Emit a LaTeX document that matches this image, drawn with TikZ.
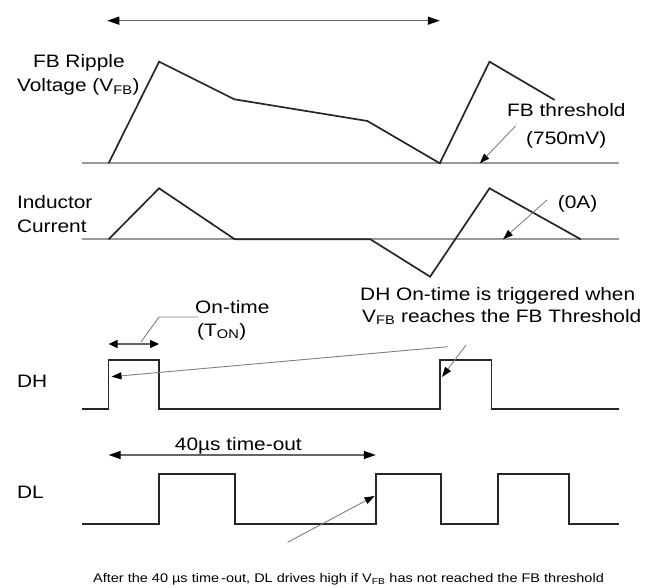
\documentclass[tikz,border=0pt]{standalone}
\usepackage{fontspec}
\setmainfont{Liberation Sans}[FakeStretch=1.16]
\usetikzlibrary{arrows.meta}
\begin{document}
\begin{tikzpicture}[x=1pt,y=-1pt,
  wave/.style={line width=1.7pt, line join=miter, draw=black!85},
  axis/.style={line width=1.6pt, draw=black!40},
  lead/.style={line width=0.9pt, draw=black!50, -{Triangle[length=10pt,width=7pt,color=black]}},
  plain/.style={line width=0.9pt, draw=black!50},
  span/.style={line width=1.2pt, draw=black!60, {Triangle[length=12pt,width=8pt,color=black]}-{Triangle[length=12pt,width=8pt,color=black]}},
  smallspan/.style={line width=1.2pt, draw=black!60, {Triangle[length=9pt,width=8pt,color=black]}-{Triangle[length=9pt,width=8pt,color=black]}},
  lbl/.style={font=\fontsize{18}{20}\selectfont, inner sep=0pt, anchor=base west},
  capt/.style={font=\fontsize{12.5}{14}\selectfont, inner sep=0pt, anchor=base}]
\useasboundingbox (0,0) rectangle (659,588);

% labels
\node[lbl] (fbr) at (32.8,67.7) {FB Ripple};
\node[lbl] (volt) at (16.8,92) {Voltage (V\textsubscript{FB})};
\node[lbl] (fbth) at (507,116.7) {FB threshold};
\node[lbl] (mv) at (526,145) {(750mV)};
\node[lbl] (ind) at (16.8,208.3) {Inductor};
\node[lbl] (cur) at (16.8,233) {Current};
\node[lbl] (za) at (557.7,209) {(0A)};
\node[lbl] (trig1) at (360,301) {DH On-time is triggered when};
\node[lbl] (trig2) at (362,322) {V\textsubscript{FB} reaches the FB Threshold};
\node[lbl] (ont) at (195,313) {On-time};
\node[lbl] (ton) at (197,336) {(T\textsubscript{ON})};
\node[lbl] (dh) at (16.8,387) {DH};
\node[lbl] (to) at (174.7,450.7) {40µs time-out};
\node[lbl] (dl) at (16.8,498) {DL};
\node[capt] (cap) at (348.5,582.5) {After the 40 µs time\,-out, DL drives high if V\textsubscript{FB} has not reached the FB threshold};

% FB ripple
\draw[axis] (82,163.3) -- (618.7,163.3);
\draw[wave] (108.6,163.3) -- (159.1,61.7) -- (234.4,99.3) -- (367.4,121) -- (439.8,163.3) -- (489.5,61.7) -- (554.7,100);

% inductor current
\draw[axis] (82,239.3) -- (618.7,239.3);
\draw[wave] (108.6,239.3) -- (159.1,188.3) -- (234.8,239.3) -- (370.4,239.3) -- (430.1,276.7) -- (489.5,188.3) -- (580.8,239.3);

% DH
\draw[wave] (82,409.3) -| (108.6,360) -| (159.1,409.3) -| (439.8,360) -| (491.6,409.3) -- (618.7,409.3);

% DL
\draw[wave] (82,524.3) -| (159.1,474.3) -| (234.8,524.3) -| (375.8,474.3) -| (440.7,524.3) -| (497.9,474.3) -| (569,524.3) -- (618.7,524.3);

% coordinates for connectors
\coordinate (topL) at (107.3,20.7);
\coordinate (topR) at (439.8,20.7);
\coordinate (thS) at (515.6,126);
\coordinate (thE) at (479.8,163.3);
\coordinate (zaS) at (547,200);
\coordinate (zaE) at (503,239.3);
\coordinate (tonL) at (108.6,344);
\coordinate (tonR) at (159.1,344);
\coordinate (ldA) at (198,317);
\coordinate (ldB) at (159,317);
\coordinate (ldC) at (141,342);
\coordinate (lgS) at (448,346.7);
\coordinate (lgE) at (111.5,376.7);
\coordinate (shS) at (466,345);
\coordinate (shE) at (442,377);
\coordinate (toL) at (108.6,455);
\coordinate (toR) at (375.8,455);
\coordinate (dlS) at (287.5,542.3);
\coordinate (dlE) at (374.6,496);

\draw[span] (topL) -- (topR);
\draw[lead] (thS) -- (thE);
\draw[lead] (zaS) -- (zaE);
\draw[smallspan] (tonL) -- (tonR);
\draw[plain] (ldA) -- (ldB) -- (ldC);
\draw[lead] (lgS) -- (lgE);
\draw[lead] (shS) -- (shE);
\draw[span] (toL) -- (toR);
\draw[lead] (dlS) -- (dlE);
\end{tikzpicture}
\end{document}
